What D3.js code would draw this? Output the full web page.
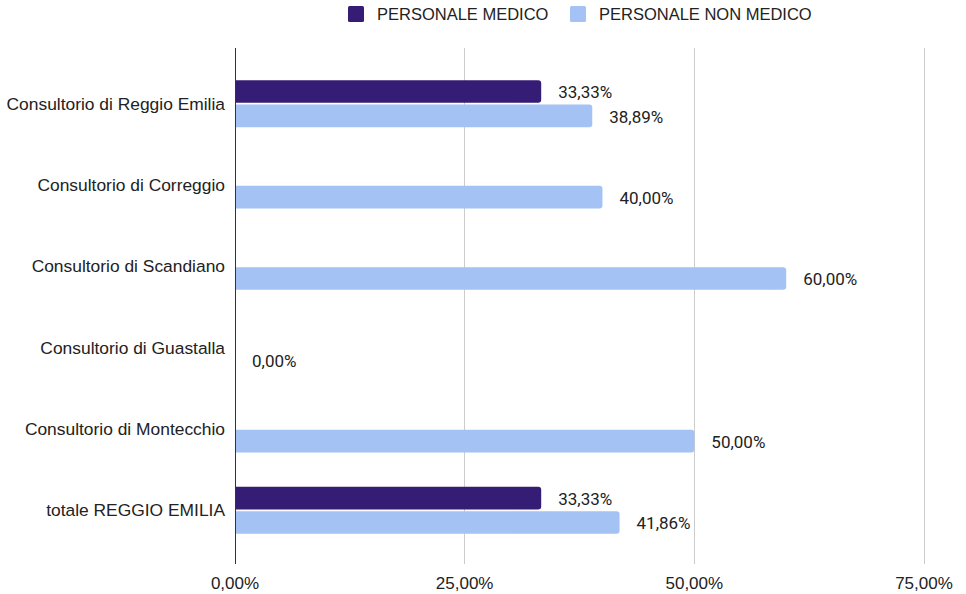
<!DOCTYPE html>
<html>
<head>
<meta charset="utf-8">
<script src="https://cdn.jsdelivr.net/npm/d3@7"></script>
<style>
  body { margin: 0; background: #fff; }
  svg { display: block; }
  .cat, .tick-label, .legend-text { font-family: "Liberation Sans", Arial, sans-serif; fill: #222; }
  .val { font-family: Roboto, "Liberation Sans", sans-serif; fill: #222; }
</style>
</head>
<body>
<div id="chart"></div>
<script>
const categories = [
  "Consultorio di Reggio Emilia",
  "Consultorio di Correggio",
  "Consultorio di Scandiano",
  "Consultorio di Guastalla",
  "Consultorio di Montecchio",
  "totale REGGIO EMILIA"
];
const seriesNames = ["PERSONALE MEDICO", "PERSONALE NON MEDICO"];
// null = no value in the sheet
const medico = [0.3333, null, null, null, null, 0.3333];
const nonMedico = [0.3889, 0.40, 0.60, 0.00, 0.50, 0.4186];
const xTicks = [0, 0.25, 0.5, 0.75];
const colors = ["#351c75", "#a4c2f4"];

const width = 966, height = 594;
const plot = { left: 235, right: 924, top: 48, bottom: 564 };

const svg = d3.select("#chart").append("svg")
  .attr("width", width)
  .attr("height", height);

const x = d3.scaleLinear().domain([0, 0.75]).range([plot.left, plot.right]);

const y = d3.scaleBand()
  .domain(categories)
  .range([63, 551])
  .paddingInner(0.38)
  .paddingOuter(0.19);

const ySub = d3.scaleBand()
  .domain(seriesNames)
  .range([0, y.bandwidth()])
  .padding(0.07);

const fmt = v => d3.format(".2f")(v * 100).replace(".", ",") + "%";

// grid lines
svg.append("g")
  .selectAll("line")
  .data(xTicks.filter(t => t > 0))
  .join("line")
  .attr("x1", d => x(d)).attr("x2", d => x(d))
  .attr("y1", plot.top).attr("y2", plot.bottom)
  .attr("stroke", "#cccccc")
  .attr("stroke-width", 1)
  .attr("shape-rendering", "crispEdges");

// tick labels
svg.append("g")
  .selectAll("text")
  .data(xTicks)
  .join("text")
  .attr("class", "tick-label")
  .attr("x", d => x(d))
  .attr("y", 589)
  .attr("text-anchor", "middle")
  .style("font-size", "17px")
  .text(d => fmt(d));

// category labels
svg.append("g")
  .selectAll("text")
  .data(categories)
  .join("text")
  .attr("class", "cat")
  .attr("x", 225)
  .attr("y", d => y(d) + y.bandwidth() / 2)
  .attr("dy", "0.35em")
  .attr("text-anchor", "end")
  .style("font-size", "17.4px")
  .text(d => d);

// bars with rounded right end
function barPath(x0, x1, y0, h, r) {
  r = Math.min(r, (x1 - x0), h / 2);
  return `M${x0},${y0}H${x1 - r}Q${x1},${y0} ${x1},${y0 + r}` +
    `V${y0 + h - r}Q${x1},${y0 + h} ${x1 - r},${y0 + h}H${x0}Z`;
}

const rows = [];
categories.forEach((c, i) => {
  rows.push({ cat: c, series: seriesNames[0], value: medico[i], color: colors[0] });
  rows.push({ cat: c, series: seriesNames[1], value: nonMedico[i], color: colors[1] });
});
const present = rows.filter(d => d.value !== null);

svg.append("g")
  .selectAll("path")
  .data(present.filter(d => d.value > 0))
  .join("path")
  .attr("d", d => barPath(x(0), x(d.value), y(d.cat) + ySub(d.series), ySub.bandwidth(), 3))
  .attr("fill", d => d.color);

svg.append("g")
  .selectAll("text")
  .data(present)
  .join("text")
  .attr("class", "val")
  .attr("x", d => x(d.value) + 17)
  .attr("y", d => y(d.cat) + ySub(d.series) + ySub.bandwidth() / 2 + 1)
  .attr("dy", "0.35em")
  .style("font-size", "17px")
  .text(d => fmt(d.value));

// baseline axis
svg.append("line")
  .attr("x1", x(0)).attr("x2", x(0))
  .attr("y1", plot.top).attr("y2", plot.bottom)
  .attr("stroke", "#333333")
  .attr("stroke-width", 1)
  .attr("shape-rendering", "crispEdges");

// legend
const legendPos = [348, 570];
const legend = svg.append("g")
  .selectAll("g")
  .data(seriesNames)
  .join("g")
  .attr("transform", (d, i) => `translate(${legendPos[i]},6)`);
legend.append("rect")
  .attr("width", 16).attr("height", 16).attr("rx", 1.5)
  .attr("fill", (d, i) => colors[i]);
legend.append("text")
  .attr("class", "legend-text")
  .attr("x", 29)
  .attr("y", 8)
  .attr("dy", "0.35em")
  .style("font-size", "16.5px")
  .text(d => d);
</script>
</body>
</html>
